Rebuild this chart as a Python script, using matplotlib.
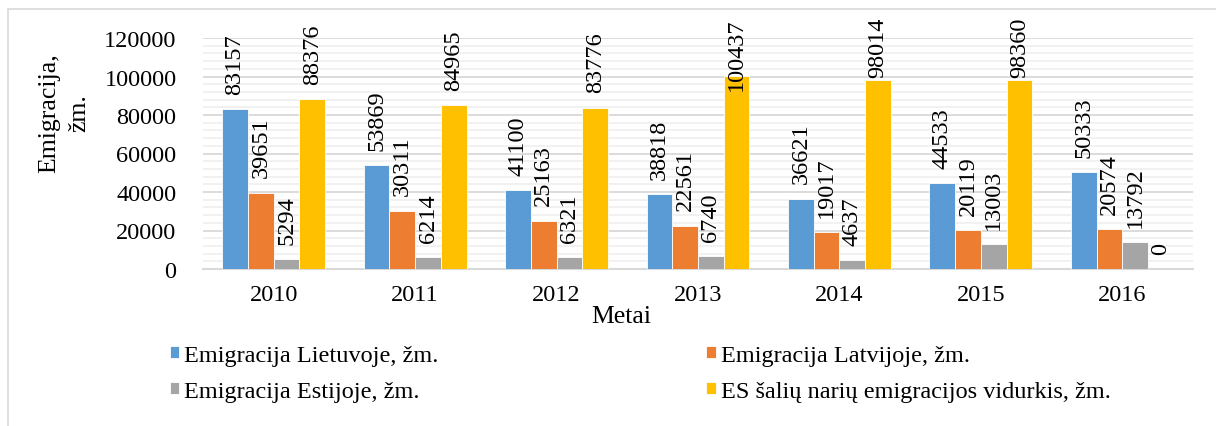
import matplotlib
matplotlib.use("Agg")
import matplotlib.pyplot as plt
import numpy as np
from matplotlib.patches import Rectangle

years = ["2010", "2011", "2012", "2013", "2014", "2015", "2016"]
lietuva = [83157, 53869, 41100, 38818, 36621, 44533, 50333]
latvija = [39651, 30311, 25163, 22561, 19017, 20119, 20574]
estija = [5294, 6214, 6321, 6740, 4637, 13003, 13792]
es_vid = [88376, 84965, 83776, 100437, 98014, 98360, 0]

series = [
    ("Emigracija Lietuvoje, žm.", lietuva, "#5B9BD5"),
    ("Emigracija Latvijoje, žm.", latvija, "#ED7D31"),
    ("Emigracija Estijoje, žm.", estija, "#A5A5A5"),
    ("ES šalių narių emigracijos vidurkis, žm.", es_vid, "#FFC000"),
]

plt.rcParams["font.family"] = ["Liberation Serif", "DejaVu Serif"]
fs = 17.5

fig = plt.figure(figsize=(12.16, 4.27), dpi=100)
ax = fig.add_axes([203 / 1216, 1 - 270 / 427, 990 / 1216, 231 / 427])

# outer frame (only left/top visible in reference)
fig.patches.append(Rectangle((8 / 1216, -0.1), 1.2, 1 - 10 / 427 + 0.1,
                             transform=fig.transFigure, fill=False,
                             edgecolor="#D9D9D9", linewidth=1.2))

x = np.arange(len(years))
w = 0.182
labels = []
handles = []
for i, (name, vals, col) in enumerate(series):
    pos = x + (i - 1.5) * w
    b = ax.bar(pos, vals, w, color=col, edgecolor="white", linewidth=0.6,
               label=name, zorder=3)
    handles.append(b)
    for px, v in zip(pos, vals):
        t = ax.annotate(str(v), xy=(px, v), xytext=(0, 11),
                        textcoords="offset points", rotation=90,
                        ha="center", va="bottom", fontsize=fs, zorder=4)
        labels.append(t)

ax.set_xlim(-0.5, len(years) - 0.5)
ax.set_ylim(0, 120000)
ax.set_yticks(np.arange(0, 120001, 20000))
ax.set_yticks(np.arange(0, 120001, 4000), minor=True)
ax.set_xticks(x)
ax.set_xticklabels(years)
ax.tick_params(axis="both", which="both", length=0, labelsize=fs)
ax.tick_params(axis="y", pad=19)
ax.tick_params(axis="x", pad=11)
ax.grid(axis="y", which="major", color="#D9D9D9", linewidth=1.3, zorder=0)
ax.grid(axis="y", which="minor", color="#F0F0F0", linewidth=1.3, zorder=0)
for s in ["top", "right", "left"]:
    ax.spines[s].set_visible(False)
ax.spines["bottom"].set_color("#D9D9D9")
ax.spines["bottom"].set_linewidth(1.5)

fig.text(621 / 1216, 1 - 317 / 427, "Metai", ha="center", va="center",
         fontsize=fs + 1)
fig.text(64 / 1216, 1 - 113 / 427, "Emigracija,\nžm.", ha="center",
         va="center", rotation=90, fontsize=fs + 1, linespacing=1.45)

# row-wise order like the original legend
order = [0, 2, 1, 3]
leg = fig.legend([handles[k] for k in order], [series[k][0] for k in order],
                 loc="upper left", bbox_to_anchor=(160 / 1216, 1 - 336 / 427),
                 ncol=2, frameon=False, fontsize=fs, handlelength=0.4,
                 handleheight=0.4, handletextpad=0.2, columnspacing=11.0,
                 labelspacing=0.62, borderaxespad=0)

# keep labels from leaving the chart (clamped like the original)
fig.canvas.draw()
r = fig.canvas.get_renderer()
limit = 427 - 18
for t in labels:
    bb = t.get_window_extent(r)
    if bb.y1 > limit:
        t.xyann = (0, t.xyann[1] - (bb.y1 - limit) * 72 / fig.dpi)

fig.savefig("out.png", dpi=100)
